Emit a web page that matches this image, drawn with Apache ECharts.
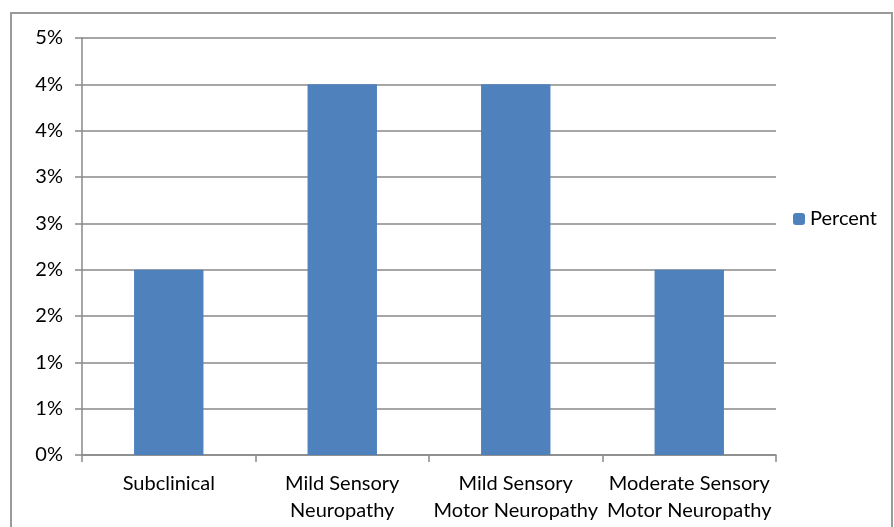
<!DOCTYPE html>
<html>
<head>
<meta charset="utf-8">
<script src="https://cdn.jsdelivr.net/npm/echarts@6/dist/echarts.min.js"></script>
<style>
  html, body { margin: 0; padding: 0; background: #fff; }
  #chart { width: 894px; height: 527px; }
</style>
</head>
<body>
<div id="chart"></div>
<script>
// Neuropathy categories and their share (in percent)
const categories = [
  'Subclinical',
  'Mild Sensory\nNeuropathy',
  'Mild Sensory\nMotor Neuropathy',
  'Moderate Sensory\nMotor Neuropathy'
];
const percentValues = [2, 4, 4, 2];
const seriesName = 'Percent';

const FONT = 'Lato, "Open Sans", sans-serif';
const AXIS_GRAY = '#898989';

const chart = echarts.init(document.getElementById('chart'), null, { renderer: 'canvas' });

chart.setOption({
  animation: false,
  backgroundColor: '#ffffff',
  graphic: [{
    type: 'rect',
    shape: { x: 11, y: 13, width: 881, height: 530 },
    style: { fill: 'none', stroke: '#9a9a9a', lineWidth: 2 },
    silent: true
  }],
  grid: { left: 82, top: 38, right: 118, bottom: 72 },
  legend: {
    data: [seriesName],
    orient: 'vertical',
    left: 788,
    top: 204,
    itemWidth: 12,
    itemHeight: 12,
    itemGap: 4,
    textStyle: { fontFamily: FONT, fontSize: 20, color: '#000' }
  },
  xAxis: {
    type: 'category',
    data: categories,
    axisLine: { lineStyle: { color: AXIS_GRAY, width: 1.5 } },
    axisTick: { show: true, length: 7, lineStyle: { color: AXIS_GRAY, width: 1.5 } },
    axisLabel: {
      interval: 0,
      margin: 15,
      fontFamily: FONT,
      fontSize: 20,
      lineHeight: 27,
      color: '#000'
    }
  },
  yAxis: {
    type: 'value',
    min: 0,
    max: 4.5,
    interval: 0.5,
    axisLine: { show: true, lineStyle: { color: AXIS_GRAY, width: 1.5 } },
    axisTick: { show: true, length: 7, lineStyle: { color: AXIS_GRAY, width: 1.5 } },
    splitLine: { lineStyle: { color: AXIS_GRAY, width: 1.5 } },
    axisLabel: {
      margin: 19,
      fontFamily: FONT,
      fontSize: 20,
      color: '#000',
      formatter: v => Math.round(v) + '%'
    }
  },
  series: [{
    name: seriesName,
    type: 'bar',
    data: percentValues,
    barWidth: '40%',
    itemStyle: { color: '#4F81BD' }
  }]
});
</script>
</body>
</html>
